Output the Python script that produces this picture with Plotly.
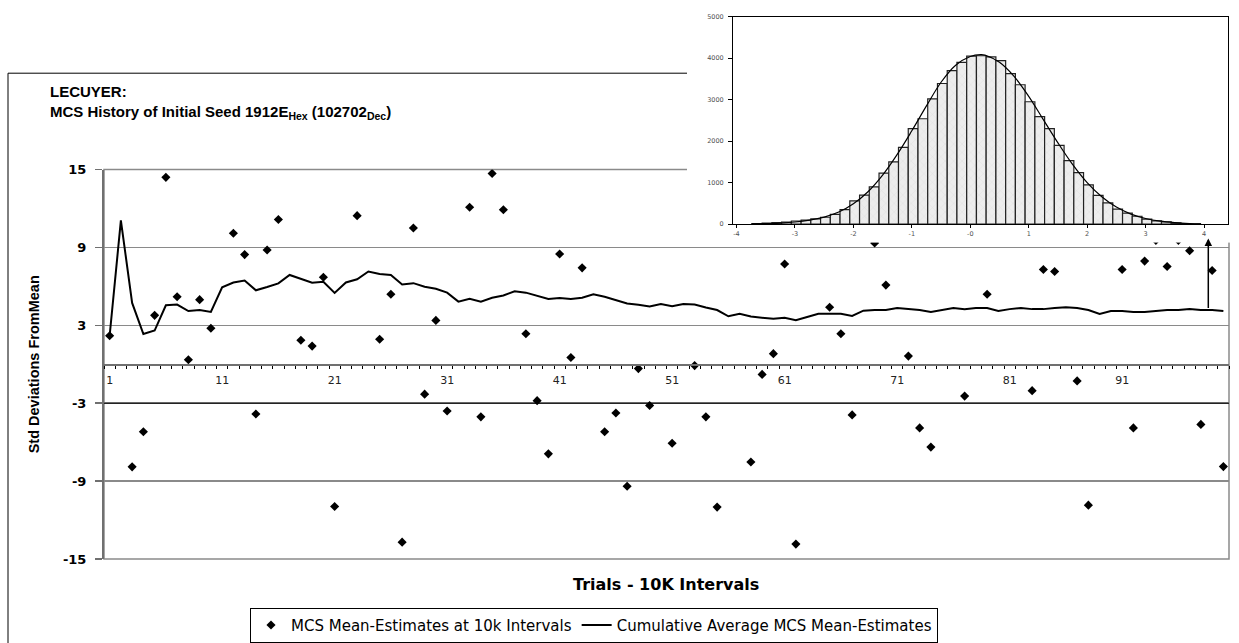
import plotly.graph_objects as go

W, H = 1239, 643


def px_x(p):
    return p / W


def px_y(p):
    return 1 - p / H


# ---------------- main chart data ----------------
categories = list(range(1, 101))
x_tick_vals = [1, 11, 21, 31, 41, 51, 61, 71, 81, 91]
y_tick_vals = [-15, -9, -3, 3, 9, 15]
y_tick_text = ["-15", "-9", "-3", "3", "9", "15"]

mcs_estimates = [
    2.2, None, -7.9, -5.2, 3.77, 14.4, 5.2, 0.35, 4.98, 2.78,
    None, 10.1, 8.45, -3.83, 8.8, 11.15, None, 1.85, 1.4, 6.7,
    -10.95, None, 11.45, None, 1.93, 5.4, -13.7, 10.5, -2.3, 3.38,
    -3.6, None, 12.1, -4.05, 14.7, 11.9, None, 2.35, -2.8, -6.9,
    8.5, 0.52, 7.43, None, -5.2, -3.75, -9.4, -0.33, -3.18, None,
    -6.08, None, -0.1, -4.05, -11.0, None, None, -7.53, -0.78, 0.82,
    7.73, -13.85, None, None, 4.4, 2.35, -3.9, None, 9.34, 6.1,
    None, 0.63, -4.9, -6.38, None, None, -2.45, None, 5.4, None,
    None, None, -2.03, 7.3, 7.15, None, -1.28, -10.85, None, None,
    7.3, -4.9, 7.95, 9.55, 7.53, 9.55, 8.75, -4.63, 7.23, -7.88,
]

cumulative_avg = [
    2.2, 11.08, 4.73, 2.33, 2.6, 4.55, 4.6, 4.1, 4.18, 4.03,
    5.93, 6.3, 6.45, 5.7, 5.95, 6.23, 6.88, 6.6, 6.28, 6.35,
    5.5, 6.3, 6.55, 7.15, 6.95, 6.88, 6.15, 6.25, 5.97, 5.82,
    5.52, 4.83, 5.05, 4.83, 5.13, 5.3, 5.63, 5.52, 5.3, 5.03,
    5.1, 5.03, 5.13, 5.4, 5.2, 4.95, 4.68, 4.58, 4.45, 4.65,
    4.47, 4.65, 4.6, 4.38, 4.18, 3.7, 3.9, 3.68, 3.58, 3.5,
    3.58, 3.4, 3.65, 3.9, 3.9, 3.9, 3.73, 4.13, 4.18, 4.18,
    4.33, 4.25, 4.18, 4.03, 4.18, 4.33, 4.25, 4.33, 4.33, 4.1,
    4.25, 4.33, 4.25, 4.25, 4.33, 4.4, 4.33, 4.18, 3.88, 4.1,
    4.1, 4.03, 4.03, 4.1, 4.18, 4.18, 4.25, 4.18, 4.18, 4.1,
]

# ---------------- inset histogram data ----------------
hist_bin_centers = [
    -3.645, -3.478, -3.311, -3.145, -2.978, -2.811, -2.645, -2.478, -2.311, -2.145,
    -1.978, -1.811, -1.645, -1.478, -1.311, -1.145, -0.978, -0.811, -0.645, -0.478,
    -0.311, -0.145, 0.022, 0.189, 0.355, 0.522, 0.689, 0.855, 1.022, 1.189,
    1.355, 1.522, 1.689, 1.855, 2.022, 2.189, 2.355, 2.522, 2.689, 2.855,
    3.022, 3.189, 3.355, 3.522, 3.689, 3.855,
]
hist_counts = [
    15, 25, 35, 50, 75, 95, 125, 165, 235, 350,
    560, 700, 900, 1230, 1500, 1850, 2300, 2540, 3020, 3390,
    3700, 3900, 4050, 4060, 4030, 3940, 3630, 3360, 2950, 2590,
    2300, 1900, 1530, 1240, 945, 695, 510, 360, 265, 190,
    120, 80, 55, 30, 15, 8,
]
curve_x = [
    -3.75, -3.5, -3.25, -3.0, -2.75, -2.5, -2.25, -2.0, -1.75, -1.5,
    -1.25, -1.0, -0.75, -0.5, -0.25, 0.0, 0.18, 0.25, 0.5, 0.75,
    1.0, 1.25, 1.5, 1.75, 2.0, 2.25, 2.5, 2.75, 3.0, 3.25,
    3.5, 3.75, 3.95,
]
curve_y = [
    5, 12, 25, 50, 95, 170, 290, 490, 780, 1180,
    1680, 2250, 2850, 3420, 3830, 4040, 4085, 4075, 3900, 3560,
    3080, 2520, 1960, 1440, 1000, 660, 410, 240, 135, 70,
    35, 15, 6,
]
inset_x_ticks = [-4, -3, -2, -1, 0, 1, 2, 3, 4]
inset_x_ticktext = ["-4", "-3", "-2", "-1", "-0", "1", "2", "3", "4"]
inset_y_ticks = [0, 1000, 2000, 3000, 4000, 5000]

fig = go.Figure()

fig.add_trace(go.Scatter(
    x=categories, y=mcs_estimates, mode="markers",
    name="MCS Mean-Estimates at 10k Intervals",
    marker=dict(symbol="diamond", size=7, color="black", line=dict(width=0)),
    xaxis="x", yaxis="y",
))
fig.add_trace(go.Scatter(
    x=categories, y=cumulative_avg, mode="lines",
    name="Cumulative Average MCS Mean-Estimates",
    line=dict(color="black", width=2),
    xaxis="x", yaxis="y",
))
# white panel behind the inset (covers the main chart there)
fig.add_trace(go.Scatter(
    x=[0.5], y=[0.5], mode="markers", marker=dict(opacity=0),
    xaxis="x2", yaxis="y2", showlegend=False, hoverinfo="skip",
))
# inset histogram
fig.add_trace(go.Bar(
    x=hist_bin_centers, y=hist_counts, width=1 / 6,
    xaxis="x3", yaxis="y3", showlegend=False,
    marker=dict(
        color="#ededed",
        line=dict(color="#222222", width=1.2),
        pattern=dict(shape="x", fgcolor="#c8c8c8", size=6, solidity=0.12),
    ),
))
fig.add_trace(go.Scatter(
    x=curve_x, y=curve_y, mode="lines",
    line=dict(color="black", width=1.2, shape="spline"),
    xaxis="x3", yaxis="y3", showlegend=False,
))

grid_gray = "#8a8a8a"
axis_gray = "#707070"
inset_label_gray = "#505050"

fig.update_layout(
    width=W, height=H, autosize=False,
    margin=dict(l=0, r=0, t=0, b=0),
    paper_bgcolor="white", plot_bgcolor="white",
    font=dict(family="DejaVu Sans", color="black"),
    showlegend=True,
    xaxis=dict(
        domain=[px_x(104), px_x(1229)], range=[0.5, 100.5],
        anchor="free", position=px_y(367),
        showline=True, linecolor=axis_gray, linewidth=1.5,
        showgrid=False, zeroline=False,
        tickmode="array", tickvals=x_tick_vals, ticks="",
        tickfont=dict(size=11, color="#222222"),
        ticklabelstandoff=5,
        minor=dict(ticks="outside", tickmode="linear", tick0=0.5, dtick=1,
                   ticklen=3, tickcolor="black", tickwidth=1, showgrid=False),
        fixedrange=True,
    ),
    yaxis=dict(
        domain=[px_y(567), px_y(167)], range=[-15, 15], anchor="x",
        tickmode="array", tickvals=y_tick_vals, ticktext=y_tick_text,
        showgrid=True, gridcolor=grid_gray, gridwidth=1.5, zeroline=False,
        showline=True, linecolor=axis_gray, linewidth=2,
        ticks="outside", ticklen=7, tickcolor=axis_gray, tickwidth=1.5,
        tickfont=dict(size=13, color="black", weight="bold"),
        ticklabelstandoff=6,
        fixedrange=True,
    ),
    xaxis2=dict(domain=[px_x(687), 1], range=[0, 1], anchor="y2",
                visible=False, fixedrange=True),
    yaxis2=dict(domain=[px_y(242), 1], range=[0, 1], anchor="x2",
                visible=False, fixedrange=True),
    xaxis3=dict(
        domain=[px_x(733), px_x(1228)], range=[-4.06, 4.41], anchor="y3",
        showline=True, linecolor="black", linewidth=1, mirror=True,
        showgrid=False, zeroline=False,
        ticks="outside", ticklen=3, tickcolor="black", tickwidth=1,
        tickmode="array", tickvals=inset_x_ticks, ticktext=inset_x_ticktext,
        tickfont=dict(size=6.5, color=inset_label_gray),
        fixedrange=True,
    ),
    yaxis3=dict(
        domain=[px_y(223), px_y(10)], range=[0, 5000], anchor="x3",
        showline=True, linecolor="black", linewidth=1, mirror=True,
        showgrid=False, zeroline=False,
        ticks="outside", ticklen=4, tickcolor="black", tickwidth=1,
        tickmode="array", tickvals=inset_y_ticks,
        tickfont=dict(size=6.5, color=inset_label_gray),
        ticklabelstandoff=3,
        fixedrange=True,
    ),
    bargap=0,
    legend=dict(
        orientation="h", x=px_x(250), y=px_y(617),
        xanchor="left", yanchor="top",
        bordercolor="black", borderwidth=1, bgcolor="white",
        font=dict(size=15, family="DejaVu Sans", color="black"),
        tracegroupgap=0,
    ),
    shapes=[
        # outer chart frame
        dict(type="rect", xref="paper", yref="paper",
             x0=px_x(8), x1=1.02, y0=-0.05, y1=px_y(68),
             line=dict(color="black", width=1), fillcolor="rgba(0,0,0,0)",
             layer="below"),
        # plot area border
        dict(type="rect", xref="x domain", yref="y domain",
             x0=0, x1=1, y0=0, y1=1,
             line=dict(color=grid_gray, width=1.5), fillcolor="rgba(0,0,0,0)",
             layer="below"),
        # black line at -3
        dict(type="line", xref="x domain", yref="y",
             x0=0, x1=1, y0=-3, y1=-3,
             line=dict(color="black", width=1.2), layer="above"),
    ],
    annotations=[
        dict(text="LECUYER:<br>MCS History of Initial Seed 1912E<sub>Hex</sub> (102702<sub>Dec</sub>)",
             xref="paper", yref="paper",
             x=px_x(48), y=px_y(76), xanchor="left", yanchor="top", align="left",
             showarrow=False,
             font=dict(size=15, weight="bold", family="Liberation Sans", color="black")),
        dict(text="Trials - 10K Intervals", xref="paper", yref="paper",
             x=px_x(666), y=px_y(593), xanchor="center", yanchor="middle",
             showarrow=False,
             font=dict(size=16, weight="bold", family="DejaVu Sans", color="black")),
        dict(text="Std Deviations FromMean", xref="paper", yref="paper",
             x=px_x(34), y=px_y(367), xanchor="center", yanchor="middle",
             textangle=-90, showarrow=False,
             font=dict(size=14.5, weight="bold", family="Liberation Sans", color="black")),
        dict(text="", xref="x", yref="y", axref="x", ayref="y",
             x=98.66, y=9.7, ax=98.66, ay=4.22,
             showarrow=True, arrowhead=2, arrowsize=1, arrowwidth=1.5,
             arrowcolor="black", standoff=0, startstandoff=0),
    ],
)

fig.write_html(
    "out.html",
    config={"displayModeBar": False, "staticPlot": True},
    post_script="document.body.style.margin='0px';document.body.style.overflow='hidden';",
)
